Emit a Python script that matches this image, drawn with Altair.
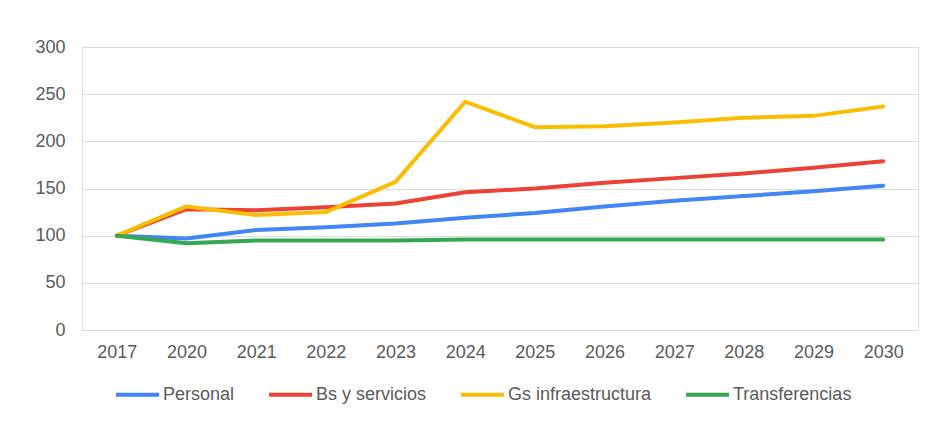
import altair as alt
import pandas as pd

years = ["2017", "2020", "2021", "2022", "2023", "2024", "2025", "2026", "2027", "2028", "2029", "2030"]
series_names = ["Personal", "Bs y servicios", "Gs infraestructura", "Transferencias"]
personal = [100, 97, 106, 109, 113, 119, 124, 131, 137, 142, 147, 153]
bs_servicios = [100, 128, 127, 130, 134, 146, 150, 156, 161, 166, 172, 179]
gs_infra = [100, 131, 122, 125, 157, 242, 215, 216, 220, 225, 227, 237]
transferencias = [100, 92, 95, 95, 95, 96, 96, 96, 96, 96, 96, 96]
colors = ["#4285F4", "#EA4335", "#FBBC04", "#34A853"]

rows = []
for name, vals in zip(series_names, [personal, bs_servicios, gs_infra, transferencias]):
    for y, v in zip(years, vals):
        rows.append({"Año": y, "Serie": name, "Valor": v})
df = pd.DataFrame(rows)

FONT = "Liberation Sans"

chart = alt.Chart(df).mark_line(strokeWidth=4, strokeCap="round", strokeJoin="round").encode(
    x=alt.X("Año:O", sort=years, scale=alt.Scale(type="point", padding=0.5),
            axis=alt.Axis(title=None, labelAngle=0, ticks=False, domain=False, grid=False,
                          labelPadding=13, labelFontSize=18, labelColor="#5a5a5a", labelFont=FONT)),
    y=alt.Y("Valor:Q", scale=alt.Scale(domain=[0, 300], nice=False),
            axis=alt.Axis(title=None, values=[0, 50, 100, 150, 200, 250, 300], ticks=False,
                          domain=False, gridColor="#dcdcdc", gridWidth=1.2, labelPadding=17,
                          labelFontSize=18, labelColor="#5a5a5a", labelFont=FONT)),
    color=alt.Color("Serie:N", sort=series_names,
                    scale=alt.Scale(domain=series_names, range=colors),
                    legend=alt.Legend(title=None, orient="none", direction="horizontal",
                                      legendX=32, legendY=324, symbolType="stroke",
                                      symbolSize=1849, symbolStrokeWidth=4, labelOffset=2,
                                      columnPadding=26, labelFontSize=18, labelColor="#5a5a5a",
                                      labelFont=FONT, labelLimit=300)),
).properties(
    width=836, height=283,
    autosize=alt.AutoSizeParams(type="none"),
    padding={"left": 74, "top": 39, "right": 2, "bottom": 90},
).configure_view(stroke=None).configure(background="white")

chart.save("out.html", embed_options={"renderer": "svg", "actions": False})
